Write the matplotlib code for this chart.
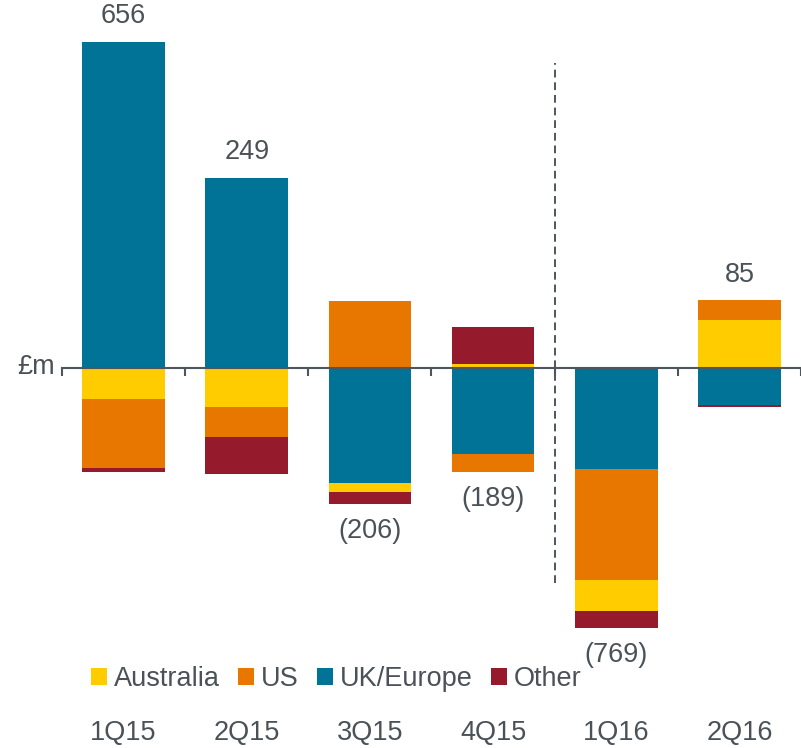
import matplotlib
matplotlib.use('Agg')
import matplotlib.pyplot as plt
import matplotlib.transforms as mtransforms
from matplotlib.patches import Patch
import numpy as np

plt.rcParams['font.family'] = ['Liberation Sans', 'DejaVu Sans']

# data (GBP m)
quarters = ['1Q15', '2Q15', '3Q15', '4Q15', '1Q16', '2Q16']
australia = [-92, -116, -28, 13, -92, 142]
us = [-203, -87, 198, -55, -328, 59]
uk_europe = [965, 563, -340, -254, -300, -110]
other = [-14, -111, -36, 107, -49, -6]

series_names = ['Australia', 'US', 'UK/Europe', 'Other']
colors = ['#FFCC00', '#E87700', '#007396', '#951A2B']
series = [australia, us, uk_europe, other]

# stacking order going outward from zero
pos_order = [0, 1, 2, 3]
neg_order = [[0, 1, 3], [0, 1, 3], [2, 0, 3], [2, 1], [2, 1, 0, 3], [2, 3]]

txt = '#4a5258'
fs = 19.5

fig = plt.figure(figsize=(8.01, 7.48), dpi=100)
ax = fig.add_axes([62 / 801, 108 / 748, 1 - 62 / 801, 640 / 748])

x = np.arange(len(quarters))
w = 0.67
for i in range(len(quarters)):
    top = 0
    for s in pos_order:
        v = series[s][i]
        if v > 0:
            ax.bar(x[i], v, w, bottom=top, color=colors[s], linewidth=0)
            top += v
    bot = 0
    for s in neg_order[i]:
        v = series[s][i]
        if v < 0:
            ax.bar(x[i], v, w, bottom=bot, color=colors[s], linewidth=0)
            bot += v
    total = sum(s[i] for s in series)
    if total >= 0:
        ax.annotate(f'{total}', (x[i], top), xytext=(0, 9), textcoords='offset points',
                    ha='center', va='bottom', fontsize=fs, color=txt)
    else:
        ax.annotate(f'({-total})', (x[i], bot), xytext=(0, -10), textcoords='offset points',
                    ha='center', va='top', fontsize=fs, color=txt)

ax.set_xlim(-0.5, 5.46)
ax.set_ylim(-805, 1089)

for sp in ['top', 'right', 'left']:
    ax.spines[sp].set_visible(False)
ax.spines['bottom'].set_position(('data', 0))
ax.spines['bottom'].set_color('#4d565c')
ax.spines['bottom'].set_linewidth(1.5)
ax.spines['bottom'].set_zorder(3)
ax.set_xticks(np.arange(-0.5, 6, 1))
ax.set_xticklabels([])
ax.tick_params(axis='x', direction='out', length=6, width=1.5, color='#4d565c')
ax.set_yticks([])

# divider between 2015 and 2016
ax.plot([3.5, 3.5], [-636, 903], color='#4d565c', lw=1.4, linestyle=(0, (4, 2.5)))

ax.annotate('£m', (-0.5, 0), xytext=(-5, 1), textcoords='offset points',
            ha='right', va='center', fontsize=fs, color=txt)

trans = mtransforms.blended_transform_factory(ax.transData, fig.transFigure)
for i, q in enumerate(quarters):
    ax.text(x[i], 1 - 733 / 748, q, transform=trans, ha='center', va='center',
            fontsize=fs, color=txt)

handles = [Patch(facecolor=c, edgecolor='none') for c in colors]
leg = fig.legend(handles, series_names, loc='center left', bbox_to_anchor=(91 / 801, 1 - 679 / 748),
                 ncol=4, frameon=False, fontsize=fs, handlelength=0.6, handleheight=0.6,
                 handletextpad=0.25, columnspacing=0.67, borderpad=0, borderaxespad=0)
for t in leg.get_texts():
    t.set_color(txt)

fig.savefig('out.png', dpi=100)
